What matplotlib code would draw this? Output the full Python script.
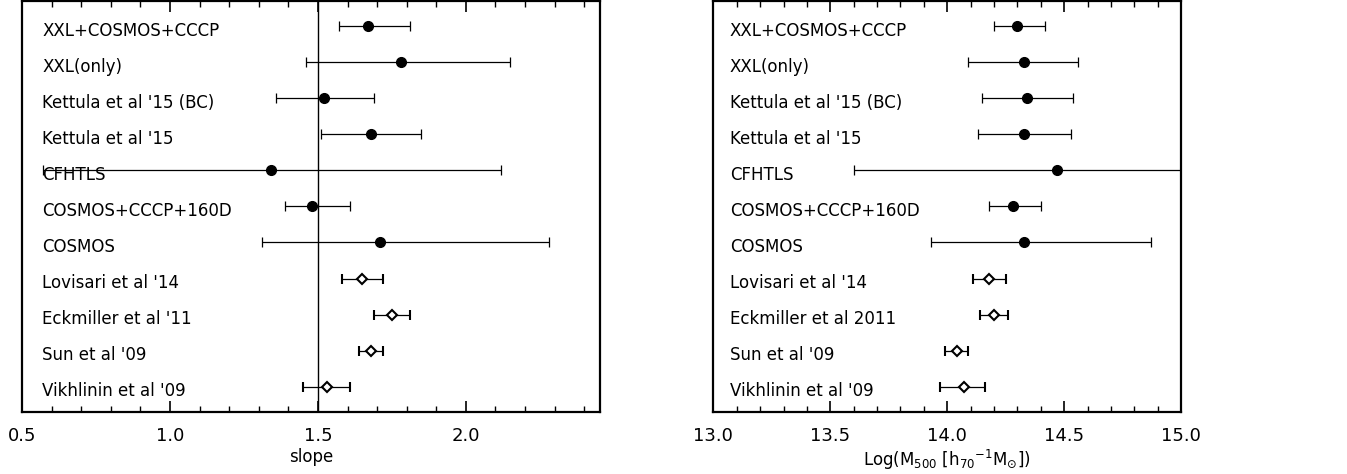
import matplotlib
matplotlib.use('Agg')
import matplotlib.pyplot as plt
from matplotlib.ticker import MultipleLocator

labels_slope = ['XXL+COSMOS+CCCP', 'XXL(only)', "Kettula et al '15 (BC)", "Kettula et al '15",
                'CFHTLS', 'COSMOS+CCCP+160D', 'COSMOS', "Lovisari et al '14",
                "Eckmiller et al '11", "Sun et al '09", "Vikhlinin et al '09"]
labels_mass = ['XXL+COSMOS+CCCP', 'XXL(only)', "Kettula et al '15 (BC)", "Kettula et al '15",
               'CFHTLS', 'COSMOS+CCCP+160D', 'COSMOS', "Lovisari et al '14",
               'Eckmiller et al 2011', "Sun et al '09", "Vikhlinin et al '09"]

# filled = weak lensing samples, open = hydrostatic samples
filled = [True, True, True, True, True, True, True, False, False, False, False]

slope = [1.67, 1.78, 1.52, 1.68, 1.34, 1.48, 1.71, 1.65, 1.75, 1.68, 1.53]
slope_lo = [1.57, 1.46, 1.36, 1.51, 0.57, 1.39, 1.31, 1.58, 1.69, 1.64, 1.45]
slope_hi = [1.81, 2.15, 1.69, 1.85, 2.12, 1.61, 2.28, 1.72, 1.81, 1.72, 1.61]

mass = [14.30, 14.33, 14.34, 14.33, 14.47, 14.28, 14.33, 14.18, 14.20, 14.04, 14.07]
mass_lo = [14.20, 14.09, 14.15, 14.13, 13.60, 14.18, 13.93, 14.11, 14.14, 13.99, 13.97]
mass_hi = [14.42, 14.56, 14.54, 14.53, 15.10, 14.40, 14.87, 14.25, 14.26, 14.09, 14.16]


def draw_panel(ax, names, vals, lo, hi, xlim, xlabel):
    n = len(names)
    for i in range(n):
        y = n - i
        err = [[vals[i] - lo[i]], [hi[i] - vals[i]]]
        if filled[i]:
            ax.errorbar(vals[i], y, xerr=err, fmt='o', color='black', ms=7,
                        elinewidth=0.9, capsize=3.5, capthick=0.9, zorder=3)
        else:
            ax.errorbar(vals[i], y, xerr=err, fmt='D', color='black', ms=5.5,
                        mfc='white', mew=1.5, elinewidth=0.9, capsize=3.5,
                        capthick=0.9, zorder=3)
        ax.text(0.035, y - 0.12, names[i], transform=ax.get_yaxis_transform(),
                fontsize=12, va='center', ha='left', zorder=2)
    ax.set_xlim(*xlim)
    ax.set_ylim(0.3, n + 0.7)
    ax.set_yticks([])
    ax.xaxis.set_major_locator(MultipleLocator(0.5))
    ax.xaxis.set_minor_locator(MultipleLocator(0.1))
    ax.xaxis.set_major_formatter(matplotlib.ticker.FormatStrFormatter('%.1f'))
    ax.tick_params(axis='x', which='both', direction='in', top=True, labelsize=13, pad=11)
    ax.tick_params(axis='x', which='major', length=8, width=1.2)
    ax.tick_params(axis='x', which='minor', length=4, width=1.0)
    for sp in ax.spines.values():
        sp.set_linewidth(1.6)
    ax.set_xlabel(xlabel, fontsize=12, labelpad=2)


fig = plt.figure(figsize=(13.47, 4.74), dpi=100)
ax1 = fig.add_axes([0.0163, 0.131, 0.4291, 0.867])
ax2 = fig.add_axes([0.5296, 0.131, 0.3472, 0.867])

draw_panel(ax1, labels_slope, slope, slope_lo, slope_hi, (0.5, 2.453), 'slope')
ax1.axvline(1.5, color='black', lw=1.0, zorder=1)

draw_panel(ax2, labels_mass, mass, mass_lo, mass_hi, (13.0, 15.0),
           r'Log(M$_{500}$ [h$_{70}$$^{-1}$M$_{\odot}$])')

fig.savefig('out.png', dpi=100)
